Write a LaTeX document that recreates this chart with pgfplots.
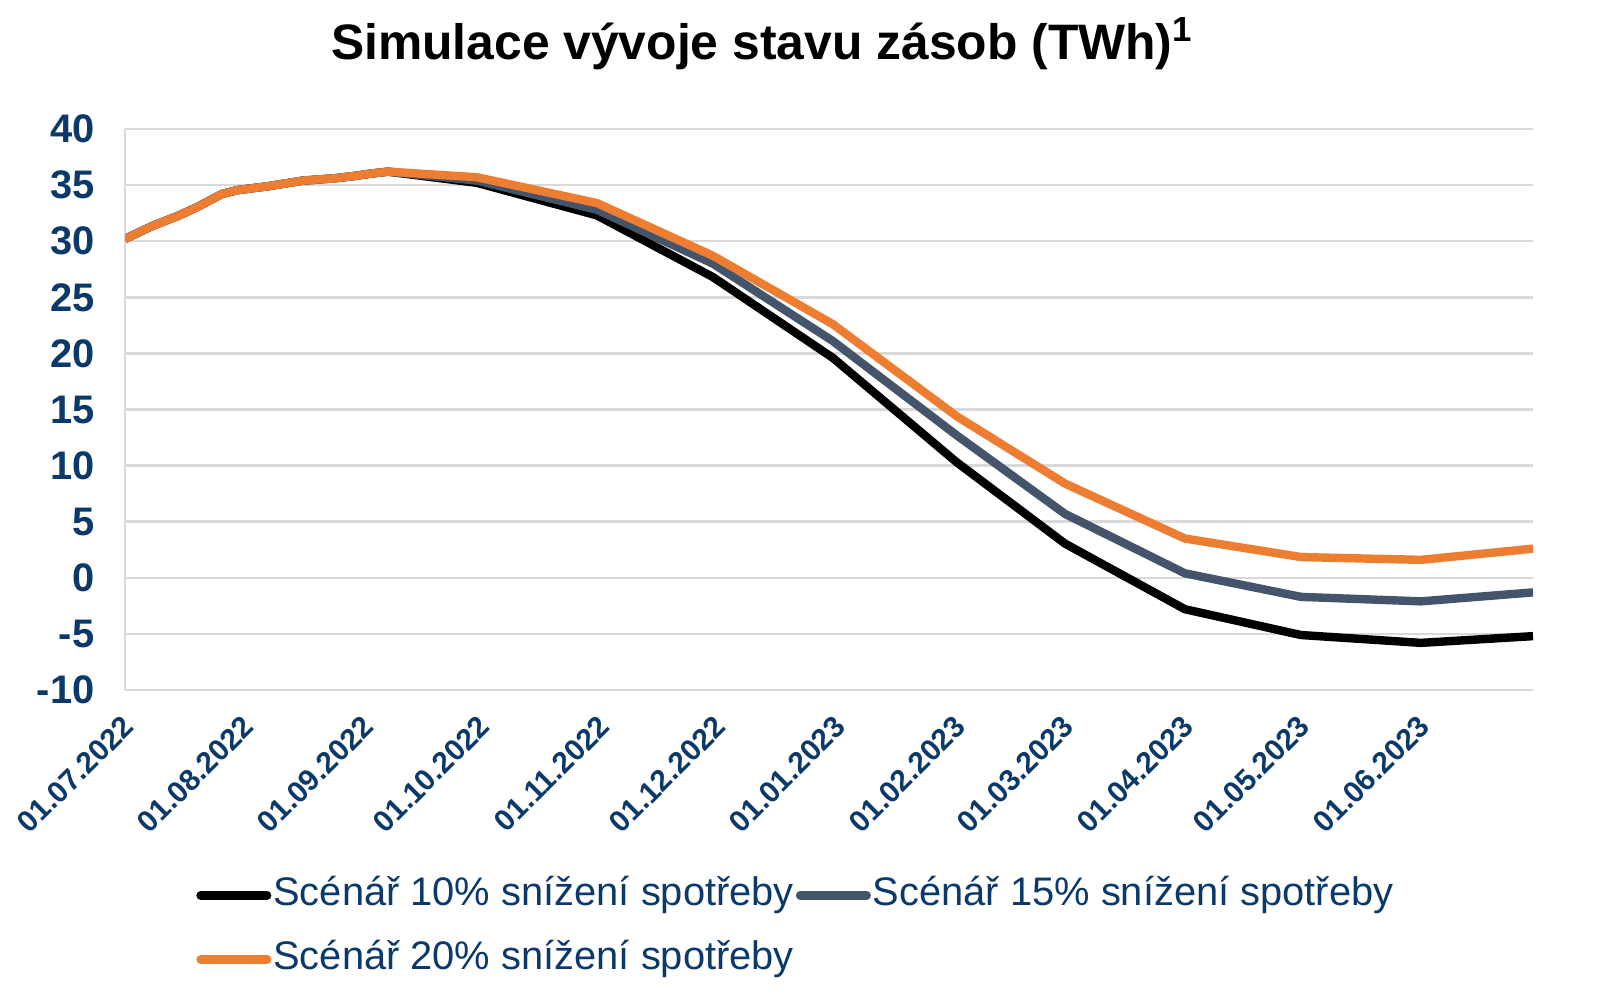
\documentclass[border=0pt]{standalone}
\usepackage{fontspec}
\setmainfont{Liberation Sans}
\usepackage{pgfplots}
\pgfplotsset{compat=1.18}
\definecolor{tickblue}{HTML}{0B3A6A}
\definecolor{sgrey}{HTML}{44546A}
\definecolor{sorange}{HTML}{ED7D31}
\definecolor{gridgrey}{HTML}{D9D9D9}
\begin{document}
\begin{tikzpicture}
\useasboundingbox (0,0) rectangle (800.5bp,499bp);
\node[font=\fontsize{25}{30}\selectfont\bfseries, anchor=base] at (381bp,469bp) {Simulace vývoje stavu zásob (TWh)\textsuperscript{1}};
\begin{axis}[
  at={(62.5bp,154bp)}, anchor=south west,
  width=704bp, height=280.5bp, scale only axis,
  xmin=0, xmax=364, ymin=-10, ymax=40,
  ytick={-10,-5,...,40},
  xtick={0,31,62,92,123,153,184,215,243,274,304,335},
  xticklabels={01.07.2022,01.08.2022,01.09.2022,01.10.2022,01.11.2022,01.12.2022,01.01.2023,01.02.2023,01.03.2023,01.04.2023,01.05.2023,01.06.2023},
  axis x line*=bottom, axis y line*=left,
  axis line style={gridgrey, line width=1.25bp},
  major tick length=0pt,
  ymajorgrids, grid style={gridgrey, line width=1.25bp},
  /pgf/number format/assume math mode=true,
  yticklabel style={font=\fontsize{20}{24}\selectfont\bfseries, text=tickblue, xshift=-11.8bp},
  xticklabel style={font=\fontsize{15}{18}\selectfont\bfseries, text=tickblue, xshift=-2bp, yshift=-7bp, rotate=45, anchor=north east},
  legend columns=2,
  legend cell align=left,
  legend style={at={(0.0504,-0.3262)}, anchor=north west, draw=none, fill=none, inner sep=0pt,
    font=\fontsize{20}{24}\selectfont, text=tickblue, row sep=10bp,
    nodes={inner sep=1bp, text height=15bp, text depth=5bp},
    /tikz/every even column/.append style={column sep=0bp}},
  legend image code/.code={\draw[#1, line cap=round] (2bp,0bp) -- (35.3bp,0bp);},
  every axis plot/.append style={line width=4.2bp, line join=round},
]
\addplot[black] coordinates {
(0,30.2) (7,31.35) (14,32.3) (19,33.1) (25,34.2) (29,34.55) (37,34.9) (46,35.4) (54,35.6) (59,35.8) (63,36.0) (68,36.2)
(91,35.2) (122,32.3) (152,26.8) (183,19.6) (215,10.3) (243,3.05) (274,-2.8) (304,-5.1) (335,-5.8) (364,-5.2)};
\addlegendentry{Scénář 10\% snížení spotřeby}
\addplot[sgrey] coordinates {
(0,30.2) (7,31.35) (14,32.3) (19,33.1) (25,34.2) (29,34.55) (37,34.9) (46,35.4) (54,35.6) (59,35.8) (63,36.0) (68,36.2)
(91,35.4) (122,32.8) (152,28.0) (183,21.1) (215,12.7) (243,5.7) (274,0.4) (304,-1.7) (335,-2.1) (364,-1.3)};
\addlegendentry{Scénář 15\% snížení spotřeby}
\addplot[sorange] coordinates {
(0,30.2) (7,31.35) (14,32.3) (19,33.1) (25,34.2) (29,34.55) (37,34.9) (46,35.4) (54,35.6) (59,35.8) (63,36.0) (68,36.2)
(91,35.7) (122,33.4) (152,28.7) (183,22.6) (215,14.4) (243,8.4) (274,3.5) (304,1.85) (335,1.6) (364,2.6)};
\addlegendentry{Scénář 20\% snížení spotřeby}
\end{axis}
\end{tikzpicture}
\end{document}
